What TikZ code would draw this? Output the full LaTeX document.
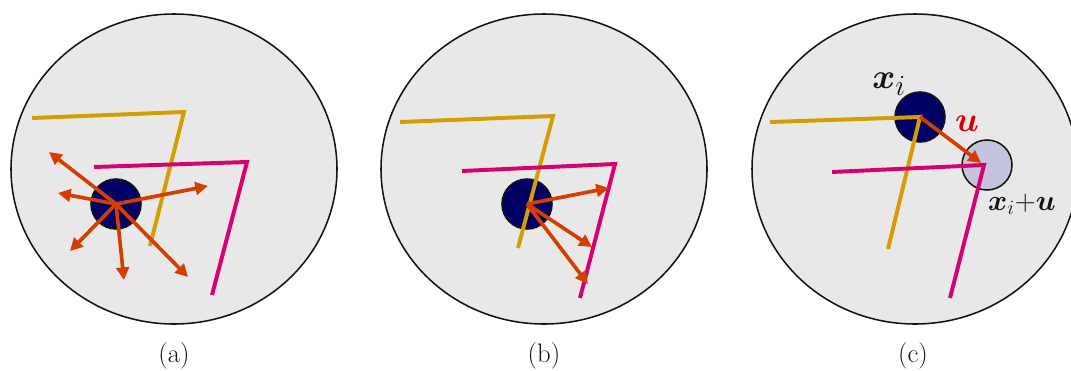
\documentclass[tikz,border=0pt]{standalone}
\usepackage{amsmath,amssymb,bm}
\usetikzlibrary{arrows.meta,positioning}
\definecolor{ink}{RGB}{20,20,20}
\definecolor{field}{RGB}{232,232,232}
\definecolor{gold}{RGB}{212,158,0}
\definecolor{rose}{RGB}{214,0,112}
\definecolor{ray}{RGB}{214,62,0}
\definecolor{navy}{RGB}{0,0,100}
\definecolor{ghost}{RGB}{196,196,222}
\definecolor{ured}{RGB}{210,0,0}
\tikzset{
  region/.style={draw=ink,line width=1.1pt,fill=field},
  disk/.style={circle,draw=ink,line width=1.1pt,fill=navy,inner sep=0pt,minimum size=1.25cm},
  shifted/.style={disk,fill=ghost},
  wallA/.style={gold,line width=2.8pt},
  wallB/.style={rose,line width=2.8pt},
  rayarr/.style={ray,line width=2.6pt,-{Triangle[length=9pt,width=9pt]}},
  subcap/.style={font=\fontsize{19}{21}\selectfont,text=ink},
  lbl/.style={font=\fontsize{24.88}{26}\selectfont,text=ink,inner sep=0pt},
}

\begin{document}
\begin{tikzpicture}[x=0.025cm,y=-0.025cm]
  \useasboundingbox (0,0) rectangle (1071,370);
  % (a) all directions
  \draw[region] (174,169) ellipse [x radius=163,y radius=155];
  \node[disk] (xa) at (116,204) {};
  \draw[wallA] (32,118) -- (184,112) -- (150,246);
  \draw[wallB] (94,167) -- (247,162) -- (212,295);
  \coordinate (a1) at (49,152);
  \coordinate (a2) at (58,193);
  \coordinate (a3) at (208,186);
  \coordinate (a4) at (70,251);
  \coordinate (a5) at (124,280);
  \coordinate (a6) at (188,277);
  \foreach \t in {a1,a2,a3,a4,a5,a6}
    \draw[rayarr] (xa.center) -- (\t);
  \node[subcap] (capa) at (174,356) {(a)};

  % (b) towards the wall
  \draw[region] (544,169) ellipse [x radius=163,y radius=155];
  \node[disk] (xb) at (527,204) {};
  \draw[wallA] (400,122) -- (553,116) -- (518,248);
  \draw[wallB] (462,171) -- (615,164) -- (580,298);
  \coordinate (b1) at (609,188);
  \coordinate (b2) at (592,247);
  \coordinate (b3) at (588,284);
  \foreach \t in {b1,b2,b3}
    \draw[rayarr] (xb.center) -- (\t);
  \node[subcap] (capb) at (544,356) {(b)};

  % (c) one step
  \draw[region] (915,169) ellipse [x radius=163,y radius=155];
  \node[disk] (xc) at (920,117) {};
  \node[shifted] (xu) at (987,165) {};
  \draw[wallA] (770,122) -- (920,117) -- (888,249);
  \draw[wallB] (832,172) -- (984,165) -- (950,298);
  \coordinate (ut) at (981,163);
  \draw[rayarr] (xc.center) -- (ut);
  \node[lbl] (xil) at (889,84) {$\bm{x}_i$};
  \node[lbl,text=ured] (ul) at (967,124) {$\bm{u}$};
  \node[lbl,font=\fontsize{21}{23}\selectfont] (xul) at (1022,204)
    {$\bm{x}_i{+}\bm{u}$};
  \node[subcap] (capc) at (913,356) {(c)};
\end{tikzpicture}
\end{document}
